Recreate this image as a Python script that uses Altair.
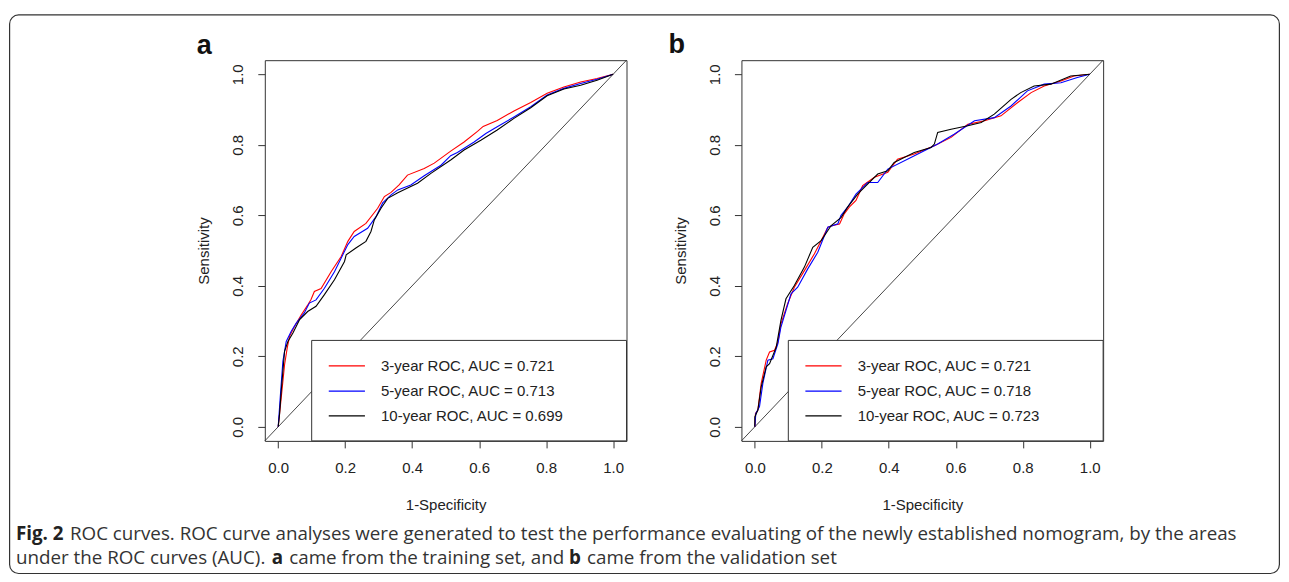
import altair as alt
import pandas as pd

SERIES = ["3-year", "5-year", "10-year"]
COLORS = ["#ff0000", "#0000ff", "#000000"]

# ---- panel a (training set) ----
a3_x = [0, .009, .019, .027, .034, .049, .069, .088, .098, .108, .128, .158, .188, .208, .227, .262, .297, .317, .337, .361, .386, .436, .466, .515, .555, .595, .612, .654, .704, .754, .803, .853, .903, .952, 1.0]
a3_y = [0, .082, .176, .224, .257, .285, .318, .345, .361, .384, .392, .44, .483, .526, .554, .577, .62, .653, .665, .686, .714, .733, .748, .782, .808, .838, .852, .869, .896, .92, .946, .964, .978, .988, 1.0]
a5_x = [0, .006, .014, .024, .039, .054, .078, .093, .113, .138, .168, .208, .227, .267, .292, .312, .337, .357, .396, .436, .486, .515, .535, .585, .62, .654, .704, .754, .803, .853, .903, .952, 1.0]
a5_y = [0, .082, .186, .242, .271, .294, .323, .351, .36, .393, .44, .517, .54, .563, .596, .635, .658, .672, .686, .712, .742, .769, .778, .808, .832, .851, .879, .908, .941, .96, .974, .986, 1.0]
a10_x = [0, .004, .009, .019, .029, .044, .064, .088, .113, .138, .168, .198, .203, .232, .262, .277, .287, .307, .327, .357, .416, .456, .515, .555, .605, .654, .704, .754, .803, .853, .903, .952, 1.0]
a10_y = [0, .035, .101, .214, .242, .266, .304, .327, .342, .375, .417, .469, .488, .507, .526, .554, .587, .62, .648, .664, .691, .719, .757, .785, .813, .842, .875, .905, .939, .958, .969, .983, 1.0]
a_labels = ["3-year ROC, AUC = 0.721", "5-year ROC, AUC = 0.713", "10-year ROC, AUC = 0.699"]

# ---- panel b (validation set) ----
b3_x = [0, .002, .009, .019, .034, .044, .059, .069, .078, .098, .118, .148, .178, .198, .218, .233, .253, .267, .282, .302, .322, .357, .397, .426, .476, .536, .586, .636, .686, .735, .785, .825, .864, .914, .953, 1.0]
b3_y = [0, .038, .047, .123, .189, .212, .217, .241, .292, .349, .396, .443, .491, .528, .566, .571, .575, .604, .623, .642, .684, .708, .722, .759, .774, .797, .821, .858, .868, .882, .92, .948, .967, .981, .995, 1.0]
b5_x = [0, .003, .014, .024, .039, .054, .069, .078, .108, .128, .158, .188, .218, .248, .257, .277, .302, .337, .367, .397, .466, .546, .595, .656, .715, .765, .814, .864, .914, .963, 1.0]
b5_y = [0, .038, .057, .123, .189, .193, .236, .283, .377, .396, .448, .495, .566, .576, .599, .623, .66, .693, .693, .731, .764, .802, .83, .868, .877, .91, .953, .972, .976, .991, 1.0]
b10_x = [0, 0, .009, .019, .034, .044, .064, .078, .093, .118, .148, .173, .198, .228, .258, .277, .307, .327, .367, .397, .416, .476, .526, .536, .546, .586, .636, .676, .715, .765, .794, .834, .884, .943, 1.0]
b10_y = [0, .028, .047, .113, .170, .179, .226, .302, .363, .401, .453, .509, .528, .571, .594, .623, .660, .679, .717, .726, .750, .778, .792, .802, .835, .844, .854, .863, .887, .929, .948, .967, .972, .995, 1.0]
b_labels = ["3-year ROC, AUC = 0.721", "5-year ROC, AUC = 0.718", "10-year ROC, AUC = 0.723"]

TICKS = [0.0, 0.2, 0.4, 0.6, 0.8, 1.0]
X_TITLE = "1-Specificity"
Y_TITLE = "Sensitivity"

CAP1_SEGS = ["Fig. 2", "ROC curves. ROC curve analyses were generated to test the performance "
             "evaluating of the newly established nomogram, by the areas"]
CAP2_SEGS = ["under the ROC curves (AUC).", "a", "came from the training set, and", "b",
             "came from the validation set"]

# ---- styling / layout constants ----
AX_FONT = "Liberation Sans"
CAP_FONT = "Open Sans"
CAP_SIZE = 18.8
TXT = "#222222"
W, H = 362, 381
DOM = [-0.04, 1.04]

xscale = alt.Scale(domain=DOM, nice=False, zero=False)
yscale = alt.Scale(domain=DOM, nice=False, zero=False)

xaxis = alt.Axis(values=TICKS, format=".1f", grid=False, domain=False, tickSize=7,
                 tickColor="#333333", tickWidth=1, labelFont=AX_FONT, labelFontSize=15,
                 labelColor=TXT, labelPadding=20, labelBaseline="middle", labelFlush=False,
                 labelOverlap=False, title=X_TITLE, titleFont=AX_FONT, titleFontSize=15,
                 titleFontWeight="normal", titleColor=TXT, titleY=64, titleBaseline="middle")
yaxis = alt.Axis(values=TICKS, format=".1f", grid=False, domain=False, tickSize=7,
                 tickColor="#333333", tickWidth=1, labelFont=AX_FONT, labelFontSize=15,
                 labelColor=TXT, labelPadding=20, labelAngle=270, labelAlign="center",
                 labelBaseline="middle", labelFlush=False, labelOverlap=False,
                 title=Y_TITLE, titleFont=AX_FONT, titleFontSize=15, titleFontWeight="normal",
                 titleColor=TXT, titleAngle=270, titleX=-61, titleY=190.5,
                 titleBaseline="middle", titleAlign="center")

color = alt.Color("series:N", scale=alt.Scale(domain=SERIES, range=COLORS), legend=None)
one = pd.DataFrame({"k": [0]})

LEG_BOX = dict(x=0.1, x2=1.04, y=-0.04, y2=0.245)
LEG_LINE_X = (0.151, 0.259)
LEG_TEXT_X = 0.307
LEG_ROWS = [0.173, 0.101, 0.031]


def X(f):
    return alt.X(f, scale=xscale, axis=xaxis)


def Y(f):
    return alt.Y(f, scale=yscale, axis=yaxis)


def panel(xs_list, ys_list, labels, letter, letter_dx, letter_dy, extra=None):
    rows = []
    for s, xs, ys in zip(SERIES, xs_list, ys_list):
        for i, (x, y) in enumerate(zip(xs, ys)):
            rows.append({"series": s, "fpr": x, "tpr": y, "i": i})
    df = pd.DataFrame(rows)
    diag = pd.DataFrame({"fpr": DOM, "tpr": DOM})
    box = pd.DataFrame({"fpr": [LEG_BOX["x"]], "fpr2": [LEG_BOX["x2"]],
                        "tpr": [LEG_BOX["y"]], "tpr2": [LEG_BOX["y2"]]})
    leg = pd.DataFrame({"series": SERIES, "label": labels, "tpr": LEG_ROWS,
                        "fpr": [LEG_LINE_X[0]] * 3, "fpr2": [LEG_LINE_X[1]] * 3,
                        "tx": [LEG_TEXT_X] * 3})

    layers = [
        alt.Chart(diag).mark_line(color="#333333", strokeWidth=0.9).encode(x=X("fpr:Q"), y=Y("tpr:Q")),
        alt.Chart(df).mark_line(strokeWidth=1.1).encode(x=X("fpr:Q"), y=Y("tpr:Q"), color=color,
                                                        order="i:Q"),
        alt.Chart(box).mark_rect(fill="white", stroke="#333333", strokeWidth=1).encode(
            x=X("fpr:Q"), x2="fpr2:Q", y=Y("tpr:Q"), y2="tpr2:Q"),
        alt.Chart(leg).mark_rule(strokeWidth=1.3).encode(x=X("fpr:Q"), x2="fpr2:Q", y=Y("tpr:Q"),
                                                         color=color),
        alt.Chart(leg).mark_text(font=AX_FONT, fontSize=15, color=TXT, align="left",
                                 baseline="middle").encode(x=X("tx:Q"), y=Y("tpr:Q"), text="label:N"),
        alt.Chart(one).mark_text(text=letter, font=AX_FONT, fontSize=27, fontWeight="bold",
                                 color="#111111", align="left", baseline="alphabetic").encode(
            x=alt.value(letter_dx), y=alt.value(letter_dy)),
    ]
    if extra:
        layers = extra + layers
    return alt.layer(*layers).properties(width=W, height=H)


# frame and caption, placed relative to panel a's plot area
CAP_X0 = -249
S = CAP_SIZE
LINE1_Y = 479.8
LINE2_Y = 504.6
cap_layers = [
    alt.Chart(one).mark_rect(fill="white", fillOpacity=0, stroke="#333333", strokeWidth=1.2,
                             cornerRadius=9).encode(
        x=alt.value(-255.4), x2=alt.value(1015.4), y=alt.value(-45.3), y2=alt.value(513.7)),
]


def cap_text(txt, dx, line, bold):
    return alt.Chart(one).mark_text(text=txt, font=CAP_FONT, fontSize=S,
                                    fontWeight="bold" if bold else "normal",
                                    color="#222222" if bold else "#333333",
                                    align="left", baseline="alphabetic").encode(
        x=alt.value(CAP_X0 + dx), y=alt.value(LINE1_Y if line == 1 else LINE2_Y))


A_POS = 256
SEG2_POS = A_POS + 17.5
B_POS = SEG2_POS + 280
SEG4_POS = B_POS + 18

cap_layers += [
    cap_text(CAP1_SEGS[0], 0, 1, True),
    cap_text(CAP1_SEGS[1], 54, 1, False),
    cap_text(CAP2_SEGS[0], 0, 2, False),
    cap_text(CAP2_SEGS[1], A_POS, 2, True),
    cap_text(CAP2_SEGS[2], SEG2_POS, 2, False),
    cap_text(CAP2_SEGS[3], B_POS, 2, True),
    cap_text(CAP2_SEGS[4], SEG4_POS, 2, False),
]

pa = panel([a3_x, a5_x, a10_x], [a3_y, a5_y, a10_y], a_labels, "a", -68, -6.3, extra=cap_layers)
pb = panel([b3_x, b5_x, b10_x], [b3_y, b5_y, b10_y], b_labels, "b", -73, -7.6)

chart = alt.hconcat(pa, pb, spacing=115, bounds="flush").properties(
    padding={"left": 0, "top": 5, "right": 0, "bottom": 0}, background="white"
).configure_view(stroke="#333333", strokeWidth=1)

chart.save("out.html", embed_options={"renderer": "svg", "actions": False})
